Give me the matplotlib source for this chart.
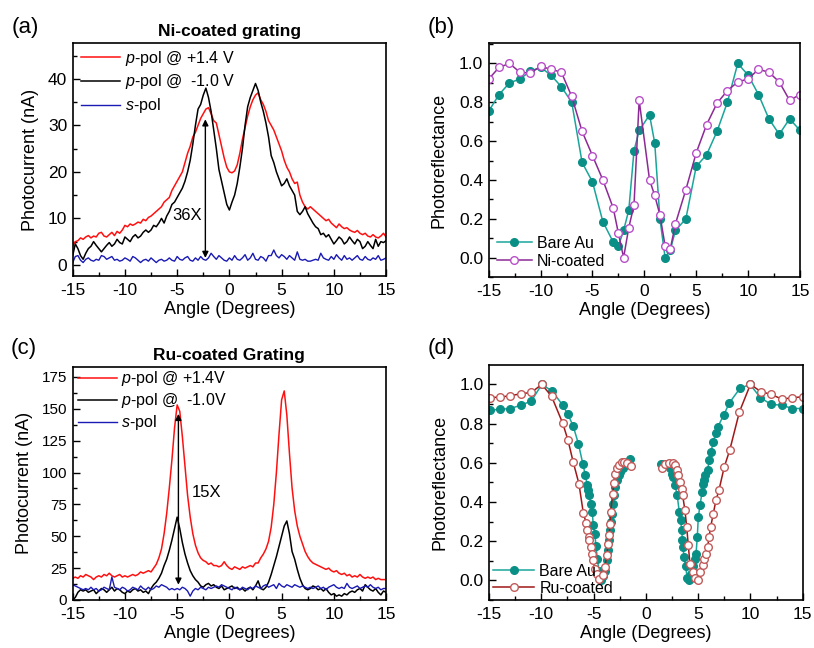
import numpy as np
import matplotlib
matplotlib.use("Agg")
import matplotlib.pyplot as plt
from matplotlib.ticker import MultipleLocator

plt.rcParams['font.family'] = ['Liberation Sans', 'DejaVu Sans']
plt.rcParams['mathtext.fontset'] = 'custom'
plt.rcParams['mathtext.rm'] = 'Liberation Sans'
plt.rcParams['mathtext.it'] = 'Liberation Sans:italic'
plt.rcParams['axes.unicode_minus'] = False

# common angle grid for the photocurrent scans (degrees)
angle = np.arange(-15, 15.01, 0.25)

# (a) Ni-coated grating photocurrent (nA)
ni_p_pos = [4.0, 5.0, 5.2, 5.8, 5.5, 6.0, 6.3, 5.8, 6.2, 6.0, 6.8, 7.0, 6.2, 6.0, 6.5, 7.0,
            6.3, 7.2, 6.8, 7.5, 8.5, 8.2, 8.8, 8.5, 8.8, 9.2, 9.0, 9.8, 9.5, 10.2, 10.5, 11.0,
            11.5, 12.0, 12.5, 13.5, 14.0, 14.5, 16.0, 17.0, 18.0, 19.0, 20.0, 22.0, 24.0, 25.5,
            27.5, 28.5, 30.0, 31.5, 32.5, 33.5, 33.8, 32.5, 31.0, 30.5, 28.0, 25.5, 23.0, 21.0,
            20.0, 19.8, 20.2, 21.5, 24.0, 27.0, 29.5, 32.0, 34.0, 35.5, 36.5, 37.0, 35.5, 34.5,
            33.0, 31.0, 30.0, 29.0, 27.5, 26.0, 24.5, 22.5, 21.0, 20.0, 18.5, 17.5, 17.8, 15.0,
            13.5, 12.5, 12.0, 12.5, 12.0, 11.5, 11.0, 10.5, 10.0, 9.5, 9.8, 9.0, 8.5, 8.0, 8.8,
            8.2, 7.8, 8.0, 7.5, 7.2, 7.0, 7.4, 6.8, 6.5, 6.8, 6.2, 6.0, 6.5, 6.0, 5.8, 6.2, 6.8, 6.0]
ni_p_neg = [2.0, 4.5, 3.5, 2.0, 1.2, 2.5, 3.5, 4.0, 5.0, 4.2, 3.5, 2.8, 3.5, 4.2, 4.8, 4.0,
            4.5, 5.5, 4.8, 4.5, 6.0, 5.5, 5.0, 6.0, 6.5, 5.8, 6.2, 7.0, 7.5, 7.0, 7.5, 8.5,
            8.2, 9.0, 10.0, 9.0, 10.5, 11.5, 13.0, 13.5, 14.5, 15.5, 16.5, 18.0, 20.0, 22.5,
            26.0, 30.0, 33.5, 34.5, 36.5, 38.0, 36.0, 33.0, 29.0, 25.0, 20.5, 18.0, 15.5, 13.0,
            11.8, 13.5, 15.0, 17.5, 21.0, 25.0, 30.0, 34.0, 36.0, 37.5, 39.0, 37.5, 35.0, 33.0,
            30.5, 27.5, 23.5, 22.0, 20.0, 18.5, 17.0, 17.5, 18.5, 17.0, 16.0, 15.0, 11.5, 10.8,
            11.5, 12.5, 11.0, 10.0, 9.0, 8.2, 7.8, 6.5, 6.8, 6.0, 6.5, 5.5, 4.5, 5.2, 6.0, 5.5,
            4.5, 5.0, 6.0, 5.2, 4.5, 5.5, 5.0, 3.5, 4.0, 5.0, 4.2, 3.5, 5.5, 4.0, 5.0, 4.8, 5.2]
ni_s = [0.5, 1.8, 2.0, 1.0, 0.5, 1.2, 1.5, 1.0, 0.8, 1.2, 1.0, 2.0, 1.8, 1.2, 1.5, 1.8,
        1.0, 1.2, 0.8, 1.0, 1.5, 1.2, 0.8, 1.8, 1.5, 1.0, 0.5, 1.0, 1.2, 0.8, 1.5, 1.0,
        0.5, 1.0, 1.2, 0.8, 1.0, 1.5, 1.0, 0.8, 1.8, 1.2, 1.0, 1.5, 1.8, 1.0, 0.8, 1.5,
        1.0, 1.8, 1.2, 1.0, 1.5, 2.5, 1.8, 1.2, 2.0, 1.5, 1.0, 0.8, 1.5, 1.0, 2.0, 1.2,
        1.0, 1.5, 2.2, 1.0, 1.5, 2.5, 1.2, 1.0, 1.8, 1.5, 0.8, 2.0, 2.0, 3.2, 2.0, 1.5,
        2.2, 1.8, 1.2, 2.0, 1.5, 1.0, 2.8, 1.2, 1.0, 1.2, 0.8, 0.8, 1.0, 1.2, 1.0, 2.5,
        1.5, 1.2, 1.0, 1.8, 1.2, 2.2, 1.5, 1.0, 2.0, 1.2, 1.5, 1.0, 1.5, 2.0, 1.2, 1.0,
        1.8, 1.2, 1.0, 1.5, 1.2, 2.0, 1.0, 1.2, 1.5]

# (c) Ru-coated grating photocurrent (nA)
ru_p_pos = [17, 18, 17, 19, 18, 20, 19, 18, 16, 18, 19, 18, 20, 19, 21, 19,
            18, 19, 20, 18, 19, 18, 19, 20, 19, 20, 22, 21, 22, 23, 22, 25,
            28, 33, 40, 52, 68, 88, 110, 135, 153, 148, 128, 105, 82, 65, 52, 43,
            37, 33, 31, 30, 28, 29, 27, 27, 26, 27, 30, 27, 25, 24, 26, 25,
            24, 26, 25, 26, 27, 26, 29, 29, 33, 36, 40, 46, 57, 75, 100, 130,
            157, 164, 145, 115, 88, 70, 58, 50, 44, 38, 34, 31, 29, 28, 27, 26,
            25, 24, 25, 23, 22, 23, 21, 20, 21, 19, 20, 18, 19, 18, 20, 18,
            17, 18, 17, 18, 16, 17, 16, 16, 16]
ru_p_neg = [0, 2, 6, 8, 7, 8, 6, 7, 8, 5, 7, 9, 8, 6, 8, 10,
            7, 9, 8, 6, 5, 7, 6, 8, 9, 7, 8, 6, 7, 5, 9, 12,
            14, 17, 21, 27, 32, 39, 47, 56, 65, 56, 45, 36, 29, 23, 19, 16,
            14, 11, 10, 12, 13, 11, 12, 10, 9, 11, 8, 9, 10, 11, 9, 10,
            8, 9, 7, 9, 10, 8, 11, 15, 9, 8, 10, 14, 20, 27, 34, 42,
            50, 58, 62, 52, 38, 32, 24, 17, 12, 9, 8, 9, 11, 10, 8, 9,
            7, 9, 6, 4, 5, 3, 4, 3, 5, 4, 6, 7, 6, 8, 9, 7,
            12, 10, 8, 7, 9, 6, 4, 7, 6]
ru_s = [12, 11, 10, 9, 8, 9, 8, 10, 8, 9, 7, 8, 10, 9, 8, 18,
        10, 9, 8, 10, 9, 7, 8, 10, 9, 8, 11, 9, 8, 10, 8, 9,
        11, 10, 12, 11, 10, 8, 9, 8, 9, 8, 10, 9, 7, 3, 7, 9,
        8, 10, 9, 8, 10, 9, 10, 11, 10, 12, 11, 10, 9, 8, 10, 9,
        8, 10, 9, 8, 10, 9, 11, 10, 9, 11, 12, 10, 11, 12, 9, 13,
        11, 10, 12, 11, 10, 12, 11, 10, 11, 10, 9, 10, 9, 10, 11, 9,
        10, 8, 10, 11, 12, 10, 9, 10, 9, 13, 10, 9, 10, 11, 9, 10,
        11, 10, 12, 10, 9, 10, 8, 9, 9]

# (b) photoreflectance, Ni-coated
b_angle = [-15, -14, -13, -12, -11, -10, -9, -8, -7, -6, -5, -4, -3, -2.5, -2, -1.5, -1,
           -0.5, 0.5, 1, 1.5, 2, 2.5, 3, 4, 5, 6, 7, 8, 9, 10, 11, 12, 13, 14, 15]
b_bare = [0.755, 0.84, 0.90, 0.92, 0.96, 0.98, 0.94, 0.88, 0.80, 0.49, 0.39, 0.185, 0.08,
          0.06, 0.14, 0.245, 0.55, 0.655, 0.735, 0.59, 0.20, 0.0, 0.04, 0.14, 0.20, 0.47,
          0.53, 0.65, 0.80, 1.0, 0.94, 0.84, 0.715, 0.635, 0.715, 0.655]
b_ni = [0.92, 0.98, 1.0, 0.955, 0.95, 0.985, 0.97, 0.955, 0.83, 0.65, 0.525, 0.40, 0.255,
        0.125, 0.0, 0.155, 0.27, 0.81, 0.40, 0.32, 0.22, 0.06, 0.045, 0.175, 0.35, 0.54,
        0.685, 0.795, 0.86, 0.905, 0.92, 0.97, 0.955, 0.905, 0.81, 0.84]

# (d) photoreflectance, Ru-coated (two branches each, gap around normal incidence)
d_bare_x1 = [-14.9, -13.95, -12.95, -11.95, -10.95, -9.95, -8.95, -7.95, -7.45, -6.95, -6.45,
             -6.02, -5.8, -5.6, -5.5, -5.41, -5.27, -5.12, -5.03, -4.88, -4.77, -4.64, -4.48,
             -4.25, -4.07, -3.9, -3.75, -3.65, -3.53, -3.43, -3.36, -3.27, -3.17, -3.05,
             -2.93, -2.75, -2.6, -2.47, -2.22, -1.99, -1.75, -1.5]
d_bare_y1 = [0.868, 0.873, 0.877, 0.894, 0.915, 1.0, 0.966, 0.894, 0.847, 0.788, 0.698,
             0.594, 0.54, 0.487, 0.46, 0.434, 0.392, 0.349, 0.283, 0.238, 0.176, 0.11, 0.05,
             0.0, 0.02, 0.05, 0.106, 0.155, 0.204, 0.255, 0.298, 0.34, 0.39, 0.434,
             0.477, 0.514, 0.537, 0.553, 0.571, 0.588, 0.6, 0.617]
d_bare_x2 = [1.42, 1.74, 2.05, 2.3, 2.47, 2.63, 2.79, 3.0, 3.2, 3.33, 3.43, 3.5, 3.55, 3.66,
             3.8, 3.97, 4.16, 4.36, 4.5, 4.66, 4.8, 4.92, 5.02, 5.18, 5.38, 5.5, 5.6, 5.7,
             5.9, 6.07, 6.23, 6.45, 6.7, 6.9, 7.47, 7.98, 9.0, 9.96, 10.95, 11.97, 12.99,
             14.02, 15.0]
d_bare_y2 = [0.596, 0.593, 0.588, 0.571, 0.545, 0.528, 0.485, 0.434, 0.349, 0.307, 0.255,
             0.208, 0.17, 0.119, 0.072, 0.01, 0.0, 0.034, 0.072, 0.11, 0.136, 0.221, 0.323,
             0.383, 0.451, 0.494, 0.511, 0.537, 0.562, 0.613, 0.656, 0.707, 0.753, 0.785,
             0.846, 0.905, 0.98, 1.0, 0.933, 0.898, 0.894, 0.877, 0.877]
d_ru_x1 = [-14.9, -13.98, -13.0, -11.97, -10.95, -9.95, -9.02, -7.95, -7.45, -6.95, -6.4,
           -5.98, -5.72, -5.6, -5.47, -5.42, -5.22, -5.12, -5.03, -4.9, -4.7, -4.45, -4.07,
           -3.9, -3.74, -3.6, -3.5, -3.43, -3.36, -3.17, -3.05, -2.92, -2.73, -2.54, -2.28,
           -2.06, -1.8, -1.45]
d_ru_y1 = [0.933, 0.935, 0.942, 0.952, 0.959, 1.0, 0.94, 0.802, 0.717, 0.605, 0.494,
           0.345, 0.295, 0.259, 0.221, 0.204, 0.17, 0.136, 0.102, 0.06, 0.034, 0.005, 0.026,
           0.068, 0.128, 0.188, 0.233, 0.29, 0.349, 0.443, 0.497, 0.545, 0.571, 0.591, 0.604,
           0.605, 0.6, 0.585]
d_ru_x2 = [1.52, 1.85, 2.2, 2.57, 2.79, 2.95, 3.1, 3.27, 3.43, 3.52, 3.74, 3.91, 4.06, 4.22,
           4.48, 4.75, 4.96, 5.18, 5.44, 5.6, 5.75, 5.91, 6.04, 6.2, 6.45, 6.71, 6.99, 7.5,
           8.02, 8.95, 10.0, 11.0, 12.0, 13.0, 14.02, 15.0]
d_ru_y2 = [0.571, 0.595, 0.6, 0.6, 0.588, 0.562, 0.537, 0.502, 0.468, 0.434, 0.358, 0.272,
           0.179, 0.085, 0.043, 0.01, 0.0, 0.043, 0.077, 0.111, 0.136, 0.17, 0.221, 0.272,
           0.341, 0.409, 0.46, 0.579, 0.664, 0.86, 1.0, 0.963, 0.949, 0.925, 0.932, 0.937]

RED = '#ff1010'
BLUE = '#1a1ab4'
TEAL_LINE = '#1aa59b'
TEAL_DOT = '#0a8f86'
PURPLE_LINE = '#8b2a95'
PURPLE_DOT = '#b84fc8'
RU_LINE = '#a01818'
RU_DOT = '#c25a5a'

fig = plt.figure(figsize=(8.14, 6.48), dpi=100)
ax_a = fig.add_axes([0.0893, 0.574, 0.385, 0.3596])
ax_b = fig.add_axes([0.6004, 0.5725, 0.3824, 0.361])
ax_c = fig.add_axes([0.0893, 0.0741, 0.385, 0.360])
ax_d = fig.add_axes([0.6007, 0.0741, 0.3854, 0.362])


def style(ax, ymaj, ymin, ysize=12.5):
    ax.set_xlim(-15, 15)
    ax.xaxis.set_major_locator(MultipleLocator(5))
    ax.xaxis.set_minor_locator(MultipleLocator(2.5))
    ax.yaxis.set_major_locator(MultipleLocator(ymaj))
    ax.yaxis.set_minor_locator(MultipleLocator(ymin))
    ax.tick_params(which='both', direction='in', top=False, right=False)
    ax.tick_params(which='major', length=5, width=1)
    ax.tick_params(which='minor', length=3, width=1)
    ax.tick_params(axis='x', labelsize=12.5, pad=5)
    ax.tick_params(axis='y', labelsize=ysize, pad=4)
    for s in ax.spines.values():
        s.set_linewidth(1.2)
    ax.set_xlabel('Angle (Degrees)', fontsize=13, labelpad=2)


# (a)
ax_a.plot(angle, ni_p_pos, color=RED, lw=1.1, label=r'$\mathit{p}$-pol @ +1.4 V')
ax_a.plot(angle, ni_p_neg, color='black', lw=1.1, label=r'$\mathit{p}$-pol @  -1.0 V')
ax_a.plot(angle, ni_s, color=BLUE, lw=1.0, label=r'$\mathit{s}$-pol')
style(ax_a, 10, 5)
ax_a.set_ylim(-2.4, 47.7)
ax_a.set_yticks([0, 10, 20, 30, 40])
ax_a.set_ylabel('Photocurrent (nA)', fontsize=13, labelpad=6)
ax_a.set_title('Ni-coated grating', fontsize=12.5, fontweight='bold', pad=5)
ax_a.annotate('', xy=(-2.3, 1.5), xytext=(-2.3, 31.3),
              arrowprops=dict(arrowstyle='<|-|>', color='black', lw=1.0, mutation_scale=9,
                              shrinkA=0, shrinkB=0))
ax_a.text(-2.6, 10.7, '36X', fontsize=12, ha='right', va='center')
ax_a.legend(loc='upper left', frameon=False, fontsize=11.5, handlelength=2.4,
            handletextpad=0.3, labelspacing=0.3, borderaxespad=0.15, borderpad=0.2,
            bbox_to_anchor=(0.01, 1.0))

# (b)
ax_b.plot(b_angle, b_bare, color=TEAL_LINE, lw=1.1, marker='o', ms=5.5,
          mfc=TEAL_DOT, mec=TEAL_DOT, label='Bare Au')
ax_b.plot(b_angle, b_ni, color=PURPLE_LINE, lw=1.1, marker='o', ms=5.5,
          mfc='white', mec=PURPLE_DOT, mew=1.0, label='Ni-coated')
style(ax_b, 0.2, 0.1)
ax_b.set_ylim(-0.1, 1.105)
ax_b.set_yticks([0.0, 0.2, 0.4, 0.6, 0.8, 1.0])
ax_b.set_ylabel('Photoreflectance', fontsize=13, labelpad=8)
ax_b.legend(loc='lower left', frameon=False, fontsize=11.5, handlelength=2.2,
            handletextpad=0.3, labelspacing=0.2, borderaxespad=0.3, borderpad=0.2)

# (c)
ax_c.plot(angle, ru_p_pos, color=RED, lw=1.1, label=r'$\mathit{p}$-pol @ +1.4V')
ax_c.plot(angle, ru_p_neg, color='black', lw=1.1, label=r'$\mathit{p}$-pol @  -1.0V')
ax_c.plot(angle, ru_s, color=BLUE, lw=1.0, label=r'$\mathit{s}$-pol')
style(ax_c, 25, 12.5, ysize=11)
ax_c.set_ylim(0, 183)
ax_c.set_yticks([0, 25, 50, 75, 100, 125, 150, 175])
ax_c.set_ylabel('Photocurrent (nA)', fontsize=13, labelpad=6)
ax_c.set_title('Ru-coated Grating', fontsize=12.5, fontweight='bold', pad=5)
ax_c.annotate('', xy=(-4.88, 12), xytext=(-4.88, 146),
              arrowprops=dict(arrowstyle='<|-|>', color='black', lw=1.0, mutation_scale=9,
                              shrinkA=0, shrinkB=0))
ax_c.text(-3.6, 84, '15X', fontsize=12, ha='left', va='center')
ax_c.legend(loc='upper left', frameon=False, fontsize=11.5, handlelength=2.4,
            handletextpad=0.3, labelspacing=0.2, borderaxespad=0.05, borderpad=0.1,
            bbox_to_anchor=(0.01, 1.0))

# (d)
bare_x = d_bare_x1 + [np.nan] + d_bare_x2
bare_y = d_bare_y1 + [np.nan] + d_bare_y2
ru_x = d_ru_x1 + [np.nan] + d_ru_x2
ru_y = d_ru_y1 + [np.nan] + d_ru_y2
ax_d.plot(bare_x, bare_y, color=TEAL_LINE, lw=1.1, marker='o', ms=5.5,
          mfc=TEAL_DOT, mec=TEAL_DOT, label='Bare Au')
ax_d.plot(ru_x, ru_y, color=RU_LINE, lw=1.1, marker='o', ms=5.5,
          mfc='white', mec=RU_DOT, mew=1.0, label='Ru-coated')
style(ax_d, 0.2, 0.1)
ax_d.set_ylim(-0.1, 1.097)
ax_d.set_yticks([0.0, 0.2, 0.4, 0.6, 0.8, 1.0])
ax_d.set_ylabel('Photoreflectance', fontsize=13, labelpad=8)
ax_d.legend(loc='lower left', frameon=False, fontsize=11.5, handlelength=2.6,
            handletextpad=0.3, labelspacing=0.15, borderaxespad=0.15, borderpad=0.1)

# panel letters
fig.text(25 / 814, 1 - 27 / 648, '(a)', fontsize=16, ha='center', va='center')
fig.text(441 / 814, 1 - 28 / 648, '(b)', fontsize=16, ha='center', va='center')
fig.text(24 / 814, 1 - 348 / 648, '(c)', fontsize=16, ha='center', va='center')
fig.text(441 / 814, 1 - 349 / 648, '(d)', fontsize=16, ha='center', va='center')

fig.savefig('out.png', dpi=100)
